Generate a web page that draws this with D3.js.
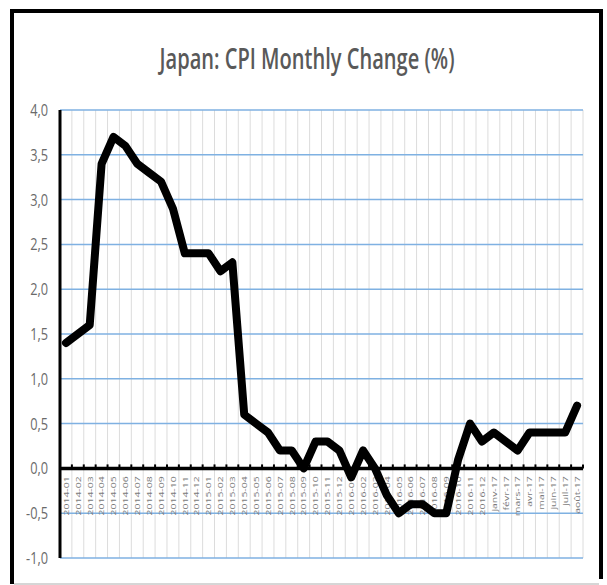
<!DOCTYPE html>
<html>
<head>
<meta charset="utf-8">
<script src="https://cdn.jsdelivr.net/npm/d3@7"></script>
<style>
  body { margin: 0; background: #fff; }
  svg { display: block; }
  text { font-family: "Open Sans", "DejaVu Sans", sans-serif; fill: #595959; }
</style>
</head>
<body>
<svg id="chart" width="607" height="585"></svg>
<script>
// month labels as shown on the category axis
const months = [
    "2014-01", "2014-02", "2014-03", "2014-04", "2014-05", "2014-06",
    "2014-07", "2014-08", "2014-09", "2014-10", "2014-11", "2014-12",
    "2015-01", "2015-02", "2015-03", "2015-04", "2015-05", "2015-06",
    "2015-07", "2015-08", "2015-09", "2015-10", "2015-11", "2015-12",
    "2016-01", "2016-02", "2016-03", "2016-04", "2016-05", "2016-06",
    "2016-07", "2016-08", "2016-09", "2016-10", "2016-11", "2016-12",
    "janv-17", "févr-17", "mars-17", "avr-17", "mai-17", "juin-17",
    "juil-17", "août-17"
];

// CPI change, %
const cpiChange = [
    1.4, 1.5, 1.6, 3.4, 3.7, 3.6, 3.4, 3.3, 3.2, 2.9, 2.4, 2.4,
    2.4, 2.2, 2.3, 0.6, 0.5, 0.4, 0.2, 0.2, 0.0, 0.3, 0.3, 0.2,
    -0.1, 0.2, 0.0, -0.3, -0.5, -0.4, -0.4, -0.5, -0.5, 0.1, 0.5, 0.3,
    0.4, 0.3, 0.2, 0.4, 0.4, 0.4, 0.4, 0.7
];

const yTicks = [-1.0, -0.5, 0.0, 0.5, 1.0, 1.5, 2.0, 2.5, 3.0, 3.5, 4.0];

const chartTitle = "Japan: CPI Monthly Change (%)";

const svg = d3.select("#chart");

const plot = { left: 60, right: 583, top: 110, bottom: 558 };

const xScale = d3.scaleBand()
    .domain(months)
    .range([plot.left, plot.right])
    .padding(0);

const yScale = d3.scaleLinear()
    .domain([-1, 4])
    .range([plot.bottom, plot.top]);

const bw = xScale.bandwidth();
const xMid = m => xScale(m) + bw / 2;
const boundaries = months.map(m => xScale(m) + bw);

// outer frame (screenshot border)
svg.append("line").attr("x1", 14).attr("x2", 599).attr("y1", 584).attr("y2", 584)
    .attr("stroke", "#c8c8c8").attr("stroke-width", 1.5);
svg.append("line").attr("x1", 12).attr("x2", 12).attr("y1", 9).attr("y2", 584)
    .attr("stroke", "#000").attr("stroke-width", 4);
svg.append("line").attr("x1", 10).attr("x2", 603).attr("y1", 11).attr("y2", 11)
    .attr("stroke", "#000").attr("stroke-width", 4);
svg.append("line").attr("x1", 601).attr("x2", 601).attr("y1", 9).attr("y2", 579)
    .attr("stroke", "#000").attr("stroke-width", 4);

// title
svg.append("text")
    .attr("x", 307)
    .attr("y", 69)
    .attr("text-anchor", "middle")
    .attr("textLength", 295)
    .attr("lengthAdjust", "spacingAndGlyphs")
    .style("font-size", "28px")
    .style("font-weight", "600")
    .text(chartTitle);

// vertical gridlines at category boundaries
svg.append("g")
    .selectAll("line")
    .data(boundaries)
    .enter()
    .append("line")
    .attr("x1", d => d).attr("x2", d => d)
    .attr("y1", plot.top).attr("y2", plot.bottom)
    .attr("stroke", "#dcdcdc")
    .attr("stroke-width", 1);

// horizontal gridlines
svg.append("g")
    .selectAll("line")
    .data(yTicks)
    .enter()
    .append("line")
    .attr("x1", plot.left).attr("x2", plot.right)
    .attr("y1", d => yScale(d)).attr("y2", d => yScale(d))
    .attr("stroke", "#7fb1e2")
    .attr("stroke-width", 1.5);

// y labels
svg.append("g")
    .selectAll("text")
    .data(yTicks)
    .enter()
    .append("text")
    .attr("transform", d => `translate(48,${yScale(d)}) scale(0.75,1)`)
    .attr("text-anchor", "end")
    .attr("dy", "0.35em")
    .style("font-size", "17px")
    .style("fill", "#6a6a6a")
    .text(d => d3.format(".1f")(d).replace(".", ",").replace("−", "-"));

// y axis line
svg.append("line")
    .attr("x1", plot.left).attr("x2", plot.left)
    .attr("y1", plot.top).attr("y2", plot.bottom)
    .attr("stroke", "#000").attr("stroke-width", 3);

// category labels, rotated
svg.append("g")
    .selectAll("text")
    .data(months)
    .enter()
    .append("text")
    .attr("transform", d => `translate(${xMid(d)},${yScale(0) + 8}) rotate(-90) scale(1.3,1)`)
    .attr("text-anchor", "end")
    .attr("dy", "0.35em")
    .style("font-size", "8px")
    .style("fill", "#7a7a7a")
    .text(d => d);

// zero axis with tick marks
const y0 = yScale(0);
svg.append("line")
    .attr("x1", plot.left).attr("x2", plot.right)
    .attr("y1", y0).attr("y2", y0)
    .attr("stroke", "#000").attr("stroke-width", 3.5);
svg.append("g")
    .selectAll("line")
    .data(boundaries)
    .enter()
    .append("line")
    .attr("x1", d => d).attr("x2", d => d)
    .attr("y1", y0 - 4).attr("y2", y0)
    .attr("stroke", "#000").attr("stroke-width", 2);

// the series line
const line = d3.line()
    .x((d, i) => xMid(months[i]))
    .y(d => yScale(d));

svg.append("path")
    .datum(cpiChange)
    .attr("d", line)
    .attr("fill", "none")
    .attr("stroke", "#000")
    .attr("stroke-width", 8)
    .attr("stroke-linejoin", "round")
    .attr("stroke-linecap", "round");
</script>
</body>
</html>
